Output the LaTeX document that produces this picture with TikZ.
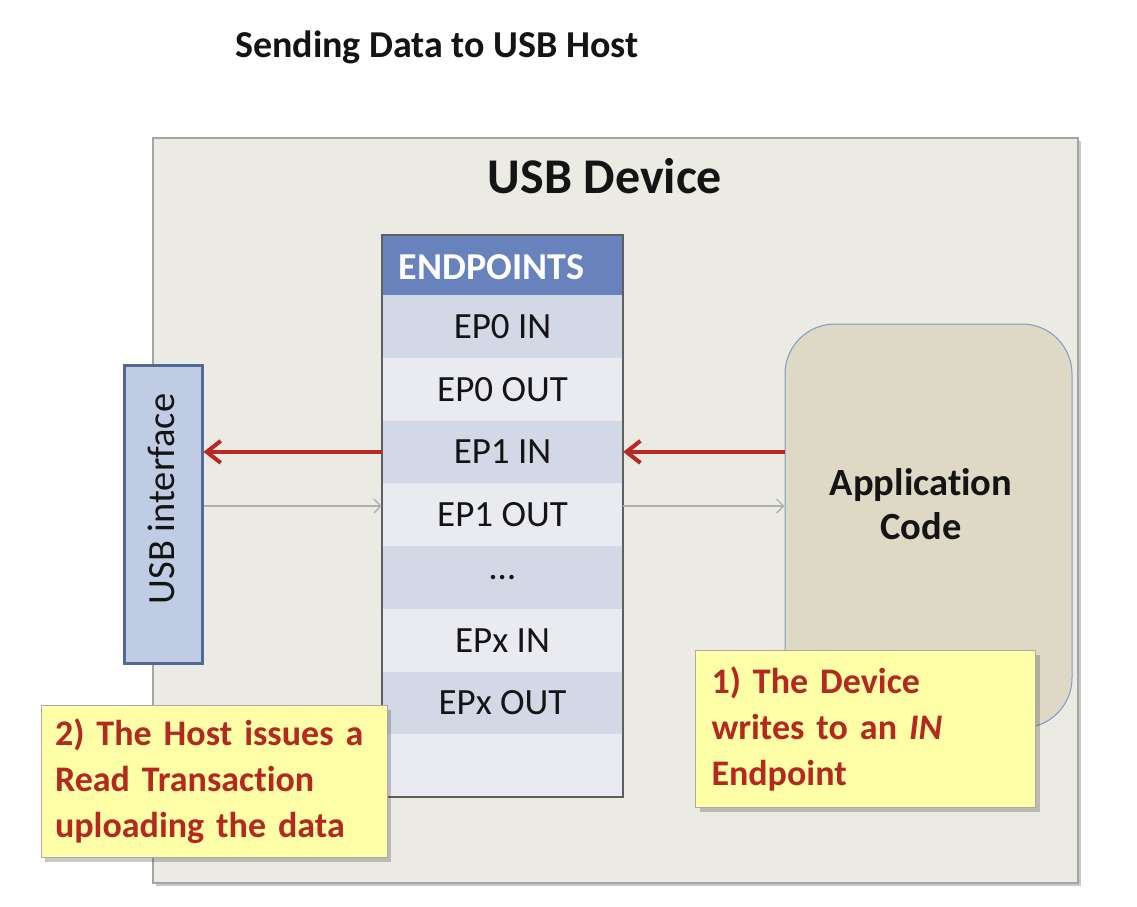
\documentclass[tikz,border=0pt]{standalone}
\usepackage{fontspec}
\setmainfont{Carlito}[Ligatures=NoCommon]
\usetikzlibrary{arrows.meta,shadows,calc}
\definecolor{devfill}{RGB}{236,235,227}
\definecolor{devline}{RGB}{165,165,165}
\definecolor{hdrblue}{RGB}{104,130,190}
\definecolor{rowdark}{RGB}{211,216,230}
\definecolor{rowlight}{RGB}{233,235,241}
\definecolor{colline}{RGB}{95,95,95}
\definecolor{usbfill}{RGB}{191,204,228}
\definecolor{usbline}{RGB}{80,105,150}
\definecolor{appfill}{RGB}{221,217,196}
\definecolor{appline}{RGB}{125,155,200}
\definecolor{notefill}{RGB}{255,255,168}
\definecolor{noteline}{RGB}{170,170,170}
\definecolor{notered}{RGB}{180,40,32}
\definecolor{arrred}{RGB}{185,40,35}
\definecolor{arrgrey}{RGB}{175,175,175}
\definecolor{inktext}{RGB}{20,20,20}
\begin{document}
\begin{tikzpicture}[x=1pt,y=-1pt,
  devbox/.style={draw=devline,line width=1.5pt,fill=devfill,minimum width=925pt,minimum height=745pt,inner sep=0pt,
    drop shadow={shadow xshift=3pt,shadow yshift=-3pt,opacity=0.35,fill=black!60}},
  eprow/.style={minimum width=241pt,minimum height=62.75pt,inner sep=0pt,text=inktext,font=\fontsize{37}{37}\selectfont},
  darkrow/.style={eprow,fill=rowdark},
  lightrow/.style={eprow,fill=rowlight},
  hdrrow/.style={minimum width=241pt,minimum height=60pt,inner sep=0pt,fill=hdrblue,text=white,font=\bfseries\fontsize{38}{38}\selectfont},
  usbbox/.style={draw=usbline,line width=3pt,fill=usbfill,minimum width=78pt,minimum height=298pt,inner sep=0pt},
  appbox/.style={draw=appline,line width=1pt,fill=appfill,rounded corners=50pt,minimum width=287pt,minimum height=404pt,inner sep=0pt},
  notebox/.style={draw=noteline,line width=1pt,fill=notefill,anchor=north west,align=left,text=notered,
    font=\bfseries\fontsize{36}{46}\selectfont,
    drop shadow={shadow xshift=4pt,shadow yshift=-4pt,opacity=0.3,fill=black!70}},
  redarrow/.style={draw=arrred,line width=4pt,-{Straight Barb[length=14pt,width=22pt]}},
  greyarrow/.style={draw=arrgrey,line width=1.3pt,-{Straight Barb[length=7pt,width=14pt]}}
]
\useasboundingbox[fill=white] (0,0) rectangle (1137,906);

% title
\node[anchor=base west,inner sep=0pt,text=inktext,font=\bfseries\fontsize{38}{38}\selectfont] (title) at (235,57) {Sending Data to USB Host};

% device box
\node[devbox] (dev) at (615.5,510.5) {};
\node[anchor=base,inner sep=0pt,text=inktext,font=\bfseries\fontsize{50}{50}\selectfont] (devlbl) at (605,193) {USB Device};

% endpoints column
\node[hdrrow] (hdr) at (502.5,265) {};
\node[inner sep=0pt,text=white,font=\bfseries\fontsize{38}{38}\selectfont] (hdrlbl) at (491.5,267) {ENDPOINTS};
\node[darkrow]  (ep1) at (502.5,326.375) {EP0 IN};
\node[lightrow] (ep2) at (502.5,389.125) {EP0 OUT};
\node[darkrow]  (ep3) at (502.5,451.875) {EP1 IN};
\node[lightrow] (ep4) at (502.5,514.625) {EP1 OUT};
\node[darkrow]  (ep5) at (502.5,577.375) {…};
\node[lightrow] (ep6) at (502.5,640.125) {EPx IN};
\node[darkrow]  (ep7) at (502.5,702.875) {EPx OUT};
\node[lightrow] (ep8) at (502.5,765.625) {};
\draw[colline,line width=1.5pt] (hdr.north west) rectangle (ep8.south east);

% USB interface
\node[usbbox] (usb) at (163,514) {};
\node[rotate=90,inner sep=0pt,text=inktext,font=\fontsize{38.5}{38.5}\selectfont] (usblbl) at (161,499) {USB interface};

% application code
\node[appbox] (app) at (928.5,526) {};
\node[align=center,inner sep=0pt,text=inktext,font=\bfseries\fontsize{38.5}{44}\selectfont] (applbl) at (921,504) {Application\\Code};

% connectors
\draw[redarrow] (ep3.west) -- (usb.east |- ep3.west);
\draw[redarrow] (app.west |- ep3.east) -- (ep3.east);
\draw[greyarrow] ([yshift=8pt]usb.east) -- ([yshift=8pt]usb.east -| ep4.west);
\draw[greyarrow] ([yshift=8.6pt]ep4.east) -- ([yshift=8.6pt]ep4.east -| app.west);

% notes
\node[notebox,minimum width=340pt,minimum height=157pt,text width=308pt,inner xsep=16pt,inner ysep=0pt] (note1) at (695,650)
  {1) The Device\\writes to an \textit{IN}\\Endpoint};
\node[notebox,minimum width=346pt,minimum height=152pt,text width=318pt,inner xsep=14pt,inner ysep=0pt] (note2) at (40.5,705)
  {2) The Host issues a\\Read Transaction\\uploading the data};
\end{tikzpicture}
\end{document}
